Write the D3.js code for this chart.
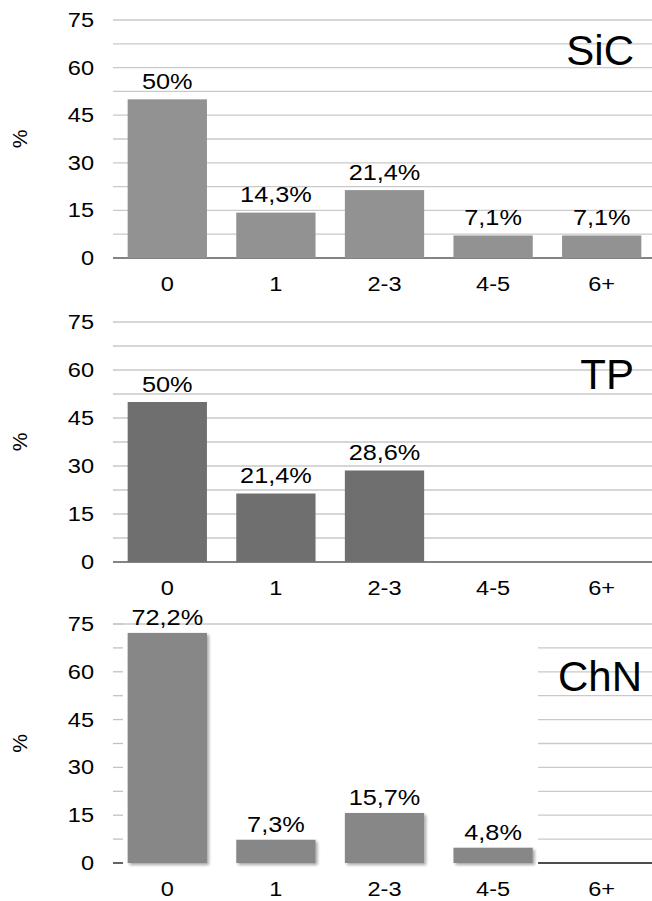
<!DOCTYPE html>
<html>
<head>
<meta charset="utf-8">
<script src="https://cdn.jsdelivr.net/npm/d3@7"></script>
<style>
  html, body { margin: 0; padding: 0; background: #fff; }
  svg { display: block; font-family: "Liberation Sans", Arial, sans-serif; }
</style>
</head>
<body>
<svg id="chart" width="652" height="901"></svg>
<script>
// Distribution (%) of counts per group
const categories = ["0", "1", "2-3", "4-5", "6+"];
const sicValues  = [50, 14.3, 21.4, 7.1, 7.1];
const tpValues   = [50, 21.4, 28.6, null, null];
const chnValues  = [72.2, 7.3, 15.7, 4.8, null];
const tickLabels = [0, 15, 30, 45, 60, 75];
const minorTicks = [7.5, 22.5, 37.5, 52.5, 67.5];
const panelNames = ["SiC", "TP", "ChN"];
const axisTitle = "%";

const left = 113, right = 652;
const xStretch = 1.15;

const panels = [
  { name: panelNames[0], values: sicValues, color: "#929292", top: 20,  zero: 258, titleX: 634, titleY: 65,  style: "grid" },
  { name: panelNames[1], values: tpValues,  color: "#6f6f6f", top: 322, zero: 562, titleX: 634, titleY: 389, style: "grid" },
  { name: panelNames[2], values: chnValues, color: "#878787", top: 624, zero: 863, titleX: 642, titleY: 691, style: "shadow" }
];

const svg = d3.select("#chart");

const defs = svg.append("defs");
const f = defs.append("filter").attr("id", "barShadow")
  .attr("x", "-10%").attr("y", "-10%").attr("width", "130%").attr("height", "130%");
f.append("feDropShadow").attr("dx", 2).attr("dy", 2).attr("stdDeviation", 1.6)
  .attr("flood-color", "#000").attr("flood-opacity", 0.35);

const x = d3.scaleBand().domain(categories).range([113, 656])
  .paddingInner(0.27).paddingOuter(0.135);

function stretchedText(g, tx, ty, text, size, anchor) {
  return g.append("text")
    .attr("transform", `translate(${tx},${ty}) scale(${xStretch},1)`)
    .attr("text-anchor", anchor)
    .attr("font-size", size)
    .attr("fill", "#000")
    .text(text);
}

panels.forEach(p => {
  const y = d3.scaleLinear().domain([0, 75]).range([p.zero, p.top]);
  const g = svg.append("g");
  const allTicks = tickLabels.concat(minorTicks).filter(d => d !== 0);

  if (p.style === "grid") {
    g.selectAll("line.grid").data(allTicks).join("line")
      .attr("x1", left).attr("x2", right)
      .attr("y1", d => y(d)).attr("y2", d => y(d))
      .attr("stroke", "#c9c9c9").attr("stroke-width", 1.3);
    g.append("line")
      .attr("x1", left).attr("x2", right)
      .attr("y1", y(0)).attr("y2", y(0))
      .attr("stroke", "#5a5a5a").attr("stroke-width", 1.4);
  } else {
    // short tick marks on the left, gridlines only past the last bar
    g.selectAll("line.tick").data(allTicks).join("line")
      .attr("x1", left).attr("x2", left + 10)
      .attr("y1", d => y(d)).attr("y2", d => y(d))
      .attr("stroke", "#c2c2c2").attr("stroke-width", 1.3);
    g.append("line")
      .attr("x1", left).attr("x2", left + 10)
      .attr("y1", y(0)).attr("y2", y(0))
      .attr("stroke", "#111").attr("stroke-width", 1.3);
    g.append("line")
      .attr("x1", left).attr("x2", right)
      .attr("y1", y(75)).attr("y2", y(75))
      .attr("stroke", "#c9c9c9").attr("stroke-width", 1.3);
    g.selectAll("line.grid").data(allTicks.filter(d => d !== 75)).join("line")
      .attr("x1", 538).attr("x2", right)
      .attr("y1", d => y(d)).attr("y2", d => y(d))
      .attr("stroke", "#c9c9c9").attr("stroke-width", 1.3);
    g.append("line")
      .attr("x1", 538).attr("x2", right)
      .attr("y1", y(0)).attr("y2", y(0))
      .attr("stroke", "#111").attr("stroke-width", 1.4);
  }

  // y tick labels
  tickLabels.forEach(t => stretchedText(g, 94, y(t) + 7, String(t), 20.5, "end"));

  // axis title
  g.append("text")
    .attr("transform", `translate(27,${(p.top + p.zero) / 2}) rotate(-90)`)
    .attr("text-anchor", "middle")
    .attr("font-size", 21)
    .text(axisTitle);

  // bars
  const data = categories.map((c, i) => ({ c, v: p.values[i] })).filter(d => d.v != null);
  g.selectAll("rect.bar").data(data).join("rect")
    .attr("x", d => x(d.c))
    .attr("width", x.bandwidth())
    .attr("y", d => y(d.v))
    .attr("height", d => y(0) - y(d.v))
    .attr("fill", p.color)
    .attr("filter", p.style === "shadow" ? "url(#barShadow)" : null);

  // value labels
  data.forEach(d => {
    const label = String(d.v).replace(".", ",") + "%";
    stretchedText(g, x(d.c) + x.bandwidth() / 2, y(d.v) - (p.style === "shadow" ? 8 : 10.5), label, 22, "middle");
  });

  // category labels
  categories.forEach(c => stretchedText(g, x(c) + x.bandwidth() / 2, p.zero + 33, c, 20.5, "middle"));

  // panel title
  g.append("text")
    .attr("x", p.titleX).attr("y", p.titleY)
    .attr("text-anchor", "end")
    .attr("font-size", 42)
    .text(p.name);
});
</script>
</body>
</html>
